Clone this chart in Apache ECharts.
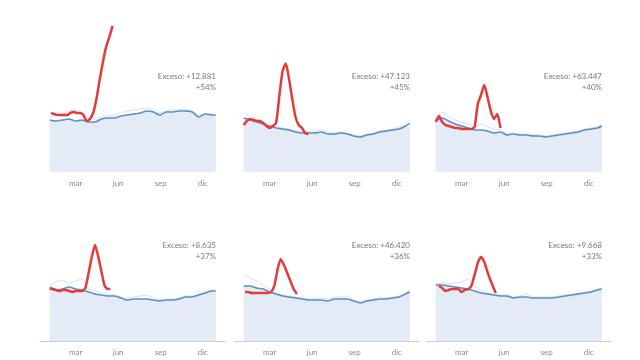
<!DOCTYPE html>
<html><head><meta charset="utf-8">
<script src="https://cdn.jsdelivr.net/npm/echarts@6/dist/echarts.min.js"></script>
<style>html,body{margin:0;padding:0;background:#fff}#c{width:640px;height:360px}</style>
</head><body><div id="c"></div><script>
// Countries and annotations
const countries = ['Perú', 'España', 'R. Unido', 'Bélgica', 'Italia', 'Países Bajos'];
const excessText = ['Exceso: +12.881', 'Exceso: +47.123', 'Exceso: +63.447', 'Exceso: +8.635', 'Exceso: +46.420', 'Exceso: +9.668'];
const excessPct = ['+54%', '+45%', '+40%', '+37%', '+36%', '+33%'];

// Month tick labels (day of year)
const monthDays = [59, 151, 243, 334];
const monthNames = ['mar', 'jun', 'sep', 'dic'];

// Days for average / past-year series (biweekly)
const avgDays = [3,17,31,45,59,73,87,101,115,129,143,157,171,185,199,213,227,241,255,269,283,297,311,325,339,353,362];

// Average weekly deaths (blue area)
const avgPeru   = [2240,2190,2240,2280,2190,2240,2150,2150,2280,2320,2320,2410,2450,2490,2540,2620,2580,2450,2580,2580,2620,2620,2580,2370,2490,2450,2450];
const avgSpain  = [10800,10400,10000,9600,9200,8800,8600,8400,8000,7800,7800,7800,8000,7600,7600,7800,7600,7200,7000,7400,7600,8000,8200,8400,8600,9200,9800];
const avgUK     = [12750,13500,12750,12000,11500,11000,10500,10500,10250,9750,10000,9250,9500,9250,9250,9000,9000,8750,9000,9250,9500,9750,10000,10500,10750,11000,11500];
const avgBelg   = [2290,2240,2290,2380,2290,2240,2160,2070,2020,1980,1980,1890,1800,1850,1850,1850,1800,1760,1800,1800,1850,1940,1940,2020,2110,2200,2200];
const avgItaly  = [14300,14300,13780,13520,12740,12220,11700,11440,11180,10920,10660,10660,10660,10400,10920,10920,10920,10400,9880,10400,10660,10920,10920,11180,11440,12220,12740];
const avgNL     = [3190,3190,3140,3080,3020,2960,2850,2740,2680,2620,2570,2570,2450,2510,2510,2450,2450,2450,2450,2510,2570,2620,2680,2740,2790,2910,2960];

// A previous year (faint line)
const pastPeru  = [2370,2450,2490,2620,2670,2580,2320,2240,2370,2410,2450,2540,2620,2670,2710,2750,2670,2540,2620,2670,2670,2670,2620,2450,2490,2490,2410];
const pastSpain = [11800,11200,10600,10000,9600,9200,8800,8600,8200,8000,8000,8200,8400,8000,7800,8000,7800,7400,7200,7600,7800,8200,8400,8600,9000,9600,10400];
const pastUK    = [14000,15000,13750,13000,12500,12000,11250,12000,11250,10750,10500,9750,9750,9500,9500,9250,9250,9000,9250,9500,9750,10000,10250,10750,11000,11250,12000];
const pastBelg  = [2460,2600,2680,2550,2640,2730,2290,2200,2110,2070,2020,1940,1890,1940,1980,2020,1890,1800,1850,1850,1890,1980,1980,2070,2160,2240,2240];
const pastItaly = [17420,16380,15600,14560,13520,12480,11960,11700,11440,11180,10920,10920,11180,10920,11440,11440,11700,10660,10140,10660,10920,11180,11180,11440,11700,12480,13260];
const pastNL    = [3250,3310,3250,3310,3360,3530,3140,2850,2740,2680,2620,2620,2510,2570,2680,2510,2510,2510,2510,2570,2620,2680,2740,2790,2850,2960,3020];

// 2020 weekly deaths (red)
const redDaysPeru  = [6,13,20,27,34,41,48,55,62,69,76,83,90,97,104,111,118,125,132,139];
const redPeru      = [2540,2490,2450,2450,2450,2450,2540,2580,2540,2540,2450,2190,2280,2540,3140,3960,4730,5380,5810,6280];
const redDaysSpain = [3,10,17,24,31,38,45,52,59,66,73,80,87,94,101,108,115,122,129,136,143];
const redSpain     = [9400,10200,10600,10400,10200,10200,9800,9200,8800,9200,9800,15200,20200,21700,18600,14600,11000,9400,8800,7800,7600];
const redDaysUK    = [3,10,17,24,31,38,45,52,59,66,73,80,87,94,101,108,115,122,129,136,143];
const redUK        = [12500,14000,12500,11750,11500,11250,11000,11000,10750,10750,10750,10750,11250,17000,19250,21750,18750,15250,13250,14500,11000];
const redDaysBelg  = [3,10,17,24,31,38,45,52,59,66,73,80,87,94,101,108,115,122,129,134];
const redBelg      = [2330,2290,2240,2200,2240,2240,2200,2160,2200,2200,2200,2330,2990,3700,4220,3700,3040,2420,2290,2290];
const redDaysItaly = [6,13,20,27,34,41,48,55,62,69,76,83,90,97,104,111,118];
const redItaly     = [12740,12740,12480,12480,12480,12480,12480,12480,12740,14300,18460,21320,19760,17680,15600,13520,12220];
const redDaysNL    = [10,17,24,31,38,45,52,59,66,73,80,87,94,101,108,115,122,129,133];
const redNL        = [3140,3020,2850,2910,2960,2960,2960,2790,2910,2960,3140,3760,4450,4790,4500,3930,3420,2960,2740];

// y-axis maximum per panel
const yMax = [6450, 30000, 37500, 6600, 39000, 8550];

const avgs = [avgPeru, avgSpain, avgUK, avgBelg, avgItaly, avgNL];
const pasts = [pastPeru, pastSpain, pastUK, pastBelg, pastItaly, pastNL];
const redDays = [redDaysPeru, redDaysSpain, redDaysUK, redDaysBelg, redDaysItaly, redDaysNL];
const reds = [redPeru, redSpain, redUK, redBelg, redItaly, redNL];

const pair = (xs, ys) => ys.map((v, i) => [xs[i], v]);

const colLeft = [40, 234, 426];
const rowBottom = [172, 341];
const gridW = 185, gridH = 150;
const textRight = [216, 410, 602];
const titleLeft = [57, 251, 444];

const grids = [], xAxes = [], yAxes = [], series = [], graphics = [];
const FONT = 'Lato, "Noto Sans", sans-serif';
for (let i = 0; i < 6; i++) {
  const c = i % 3, r = Math.floor(i / 3);
  grids.push({left: colLeft[c], top: rowBottom[r] - gridH, width: gridW, height: gridH});
  xAxes.push({
    type: 'value', gridIndex: i, min: -18, max: 382,
    axisLine: {show: r === 1, lineStyle: {color: '#cccccc', width: 1}},
    axisTick: {show: false}, splitLine: {show: false},
    axisLabel: {
      customValues: monthDays, margin: 7,
      formatter: v => monthNames[monthDays.indexOf(v)] || '',
      color: '#8a8a8a', fontSize: 8, fontFamily: FONT
    }
  });
  yAxes.push({type: 'value', gridIndex: i, min: 0, max: yMax[i], show: false});
  const avgData = pair(avgDays, avgs[i]);
  series.push({type: 'line', xAxisIndex: i, yAxisIndex: i, data: avgData, symbol: 'none', smooth: 0.2,
    lineStyle: {width: 0}, areaStyle: {color: '#e2ebf6', opacity: 1}, z: 1, silent: true});
  series.push({type: 'line', xAxisIndex: i, yAxisIndex: i, data: pair(avgDays, pasts[i]), symbol: 'none', smooth: 0.2,
    lineStyle: {width: 0.8, color: '#c9d5e3'}, z: 2, silent: true});
  series.push({type: 'line', xAxisIndex: i, yAxisIndex: i, data: avgData, symbol: 'none', smooth: 0.2,
    lineStyle: {width: 1.5, color: '#5b8ec6'}, z: 3, silent: true});
  series.push({type: 'line', xAxisIndex: i, yAxisIndex: i, data: pair(redDays[i], reds[i]), symbol: 'none', smooth: 0.2,
    lineStyle: {width: 2.5, color: '#e43a3a'}, z: 4, silent: true});

  graphics.push({type: 'text', style: {text: countries[i], x: titleLeft[c], y: rowBottom[r] - 9,
    verticalAlign: 'middle', align: 'left', font: 'bold 10px ' + FONT, fill: '#1a1a1a'}});
  graphics.push({type: 'text', style: {text: excessText[i], x: textRight[c], y: rowBottom[r] - 96,
    verticalAlign: 'middle', align: 'right', font: '8px ' + FONT, fill: '#777777'}});
  graphics.push({type: 'text', style: {text: excessPct[i], x: textRight[c], y: rowBottom[r] - 85,
    verticalAlign: 'middle', align: 'right', font: '8px ' + FONT, fill: '#777777'}});
}

const chart = echarts.init(document.getElementById('c'), null, {renderer: 'canvas'});
chart.setOption({
  animation: false,
  backgroundColor: '#ffffff',
  grid: grids, xAxis: xAxes, yAxis: yAxes, series: series, graphic: graphics
});
</script></body></html>
